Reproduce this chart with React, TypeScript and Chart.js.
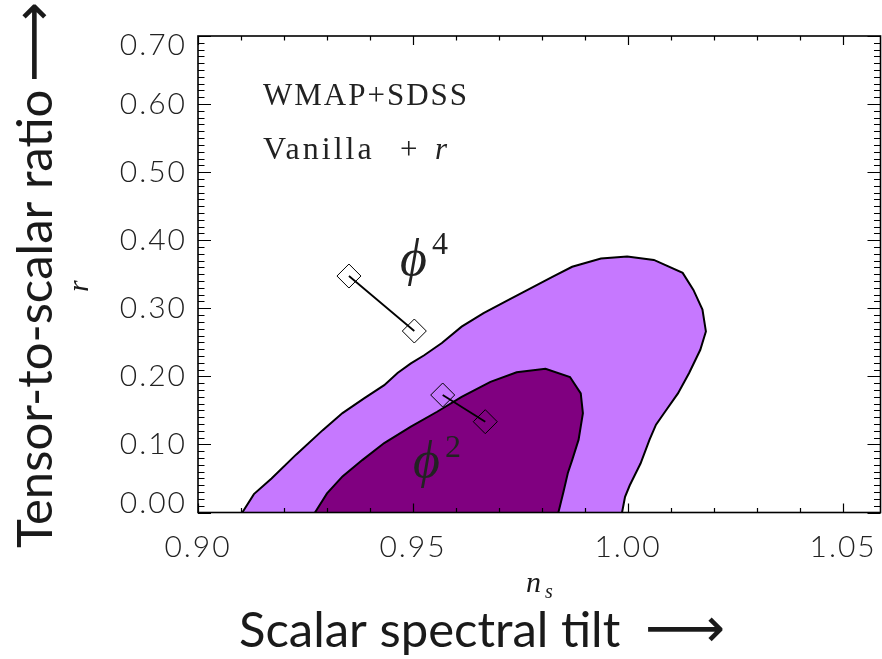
import React, { useEffect, useRef } from "react";
import { Chart, registerables } from "chart.js";

Chart.register(...registerables);

// Outer (95%) confidence region in the (n_s, r) plane; both ends sit on r = 0
const outerNs = [0.9103, 0.9130, 0.9171, 0.9228, 0.9290, 0.9336, 0.9387, 0.9433, 0.9464, 0.9495, 0.9526, 0.9567, 0.9613, 0.9664, 0.9721, 0.9772, 0.9824, 0.9870, 0.9937, 0.9998, 1.0060, 1.0127, 1.0152, 1.0173, 1.0181, 1.0168, 1.0142, 1.0116, 1.0086, 1.0065, 1.0050, 1.0029, 1.0004, 0.9993, 0.9986];
const outerR = [0.000, 0.027, 0.050, 0.085, 0.121, 0.146, 0.168, 0.187, 0.205, 0.219, 0.231, 0.249, 0.273, 0.293, 0.312, 0.329, 0.346, 0.361, 0.373, 0.376, 0.371, 0.352, 0.327, 0.298, 0.266, 0.239, 0.205, 0.175, 0.148, 0.129, 0.107, 0.072, 0.040, 0.023, 0.000];

// Inner (68%) confidence region
const innerNs = [0.9272, 0.9300, 0.9336, 0.9382, 0.9433, 0.9495, 0.9556, 0.9613, 0.9680, 0.9741, 0.9808, 0.9865, 0.9890, 0.9895, 0.9885, 0.9870, 0.9860, 0.9850, 0.9838];
const innerR = [0.000, 0.028, 0.053, 0.077, 0.102, 0.126, 0.148, 0.170, 0.192, 0.206, 0.211, 0.199, 0.175, 0.146, 0.107, 0.077, 0.058, 0.031, 0.000];

// Model predictions (two e-fold choices each)
const phi4Ns = [0.9351, 0.9503];
const phi4R = [0.3474, 0.2666];
const phi2Ns = [0.9569, 0.9668];
const phi2R = [0.1726, 0.1334];

// Axes
const X_MIN = 0.9;
const X_MAX = 1.0587;
const Y_MIN = 0.0;
const Y_MAX = 0.7;
const xTickValues = [0.9, 0.95, 1.0, 1.05];
const xTickLabels = ["0.90", "0.95", "1.00", "1.05"];
const yTickValues = [0.0, 0.1, 0.2, 0.3, 0.4, 0.5, 0.6, 0.7];
const yTickLabels = ["0.00", "0.10", "0.20", "0.30", "0.40", "0.50", "0.60", "0.70"];
const MINOR_STEP = 0.01;

const OUTER_COLOR = "#C678FF";
const INNER_COLOR = "#800080";

const W = 882;
const H = 659;

const toPoints = (xs: number[], ys: number[]) => xs.map((x, i) => ({ x, y: ys[i] }));

// Fills each contour polygon (from the points Chart.js laid out) before its outline is drawn
const regionFill = {
  id: "regionFill",
  beforeDatasetDraw(chart: any, args: any) {
    const ds: any = chart.data.datasets[args.index];
    if (!ds.regionColor) return;
    const pts = args.meta.data;
    const { ctx, chartArea: a } = chart;
    ctx.save();
    ctx.beginPath();
    ctx.rect(a.left, a.top, a.right - a.left, a.bottom - a.top);
    ctx.clip();
    ctx.beginPath();
    pts.forEach((p: any, i: number) => (i ? ctx.lineTo(p.x, p.y) : ctx.moveTo(p.x, p.y)));
    ctx.closePath();
    ctx.fillStyle = ds.regionColor;
    ctx.fill();
    ctx.restore();
  },
};

const isMajor = (v: number, list: number[]) => list.some((t) => Math.abs(t - v) < 1e-6);

// Box frame, inward ticks on all four sides, tick labels, titles and annotations
const frameAndText = {
  id: "frameAndText",
  afterDatasetsDraw(chart: any) {
    const { ctx, chartArea: a, scales } = chart;
    const xs = scales.x;
    const ys = scales.y;
    const px = (v: number) => xs.getPixelForValue(v);
    const py = (v: number) => ys.getPixelForValue(v);

    ctx.save();
    ctx.strokeStyle = "#000";

    // ticks
    ctx.lineWidth = 1.2;
    ctx.beginPath();
    const nx = Math.round((X_MAX - X_MIN) / MINOR_STEP);
    for (let k = 0; k <= nx; k++) {
      const v = Math.round((X_MIN + k * MINOR_STEP) * 1000) / 1000;
      if (v > X_MAX) break;
      const len = isMajor(v, xTickValues) ? 9 : 4.5;
      const x = Math.round(px(v)) + 0.5;
      ctx.moveTo(x, a.bottom);
      ctx.lineTo(x, a.bottom - len);
      ctx.moveTo(x, a.top);
      ctx.lineTo(x, a.top + len);
    }
    const ny = Math.round((Y_MAX - Y_MIN) / MINOR_STEP);
    for (let k = 0; k <= ny; k++) {
      const v = Math.round((Y_MIN + k * MINOR_STEP) * 1000) / 1000;
      const len = isMajor(v, yTickValues) ? 13 : 6.5;
      const y = Math.round(py(v)) + 0.5;
      ctx.moveTo(a.left, y);
      ctx.lineTo(a.left + len, y);
      ctx.moveTo(a.right, y);
      ctx.lineTo(a.right - len, y);
    }
    ctx.stroke();

    // frame
    ctx.lineWidth = 1.6;
    ctx.strokeRect(a.left, a.top, a.right - a.left, a.bottom - a.top);

    // tick labels
    ctx.fillStyle = "#222";
    ctx.font = "300 30px Lato, 'DejaVu Sans', sans-serif";
    (ctx as any).letterSpacing = "2px";
    ctx.textAlign = "center";
    ctx.textBaseline = "alphabetic";
    xTickValues.forEach((v, i) => {
      ctx.fillText(xTickLabels[i], px(v), a.bottom + 44);
    });
    ctx.textAlign = "right";
    ctx.textBaseline = "middle";
    yTickValues.forEach((v, i) => {
      const y = Math.min(Math.max(py(v), a.top + 9.5), a.bottom - 9.5);
      ctx.fillText(yTickLabels[i], a.left - 11, y);
    });
    (ctx as any).letterSpacing = "0px";

    // axis titles with long arrows
    ctx.fillStyle = "#1a1a1a";
    ctx.textBaseline = "alphabetic";
    ctx.textAlign = "left";
    const titleFont = "49px Lato, 'DejaVu Sans', sans-serif";
    const arrowFont = "56px 'DejaVu Sans', sans-serif";
    ctx.font = titleFont;
    ctx.fillText("Scalar spectral tilt", 239, 647);
    ctx.font = arrowFont;
    ctx.fillText("\u27F6", 645, 647);
    ctx.save();
    ctx.translate(52, 548);
    ctx.rotate(-Math.PI / 2);
    ctx.font = titleFont;
    ctx.fillText("Tensor-to-scalar ratio", 0, 0);
    ctx.font = arrowFont;
    ctx.fillText("\u27F6", 466, 0);
    ctx.restore();

    // variable symbols
    ctx.font = "italic 30px 'Liberation Serif', serif";
    ctx.fillText("n", 526, 592);
    ctx.font = "italic 20px 'Liberation Serif', serif";
    ctx.fillText("s", 545, 598);
    ctx.save();
    ctx.translate(88, 292);
    ctx.rotate(-Math.PI / 2);
    ctx.font = "italic 30px 'Liberation Serif', serif";
    ctx.fillText("r", 0, 0);
    ctx.restore();

    // annotations inside the plot
    ctx.fillStyle = "#222";
    ctx.font = "31px 'Liberation Serif', serif";
    (ctx as any).letterSpacing = "2px";
    ctx.fillText("WMAP+SDSS", px(0.91512), py(0.5987));
    (ctx as any).letterSpacing = "3px";
    ctx.font = "32px 'Liberation Serif', serif";
    ctx.fillText("Vanilla", px(0.91512), py(0.5189));
    (ctx as any).letterSpacing = "0px";
    ctx.font = "31px 'Liberation Serif', serif";
    ctx.fillText("+", px(0.94698), py(0.5189));
    ctx.font = "italic 31px 'Liberation Serif', serif";
    ctx.fillText("r", px(0.95512), py(0.5189));

    ctx.font = "italic 52px 'Liberation Serif', 'DejaVu Serif', serif";
    ctx.fillText("\u03D5", px(0.94698), py(0.3489));
    ctx.fillText("\u03D5", px(0.95), py(0.0522));
    ctx.font = "32px 'Liberation Serif', serif";
    ctx.fillText("4", px(0.95442), py(0.3798));
    ctx.fillText("2", px(0.95744), py(0.0815));

    ctx.restore();
  },
};

export default function App() {
  const ref = useRef<HTMLCanvasElement | null>(null);

  useEffect(() => {
    if (!ref.current) return;
    const marker = {
      showLine: true,
      borderColor: "#000",
      borderWidth: 1.8,
      pointStyle: "rectRot",
      pointRadius: 12,
      pointBorderWidth: 1,
      pointBorderColor: "#000",
      pointBackgroundColor: "rgba(0,0,0,0)",
      order: 1,
    };
    const chart = new Chart(ref.current, {
      type: "scatter",
      data: {
        datasets: [
          {
            label: "95%",
            data: toPoints(outerNs, outerR),
            showLine: true,
            borderColor: "#000",
            borderWidth: 2,
            pointRadius: 0,
            regionColor: OUTER_COLOR,
            order: 3,
          } as any,
          {
            label: "68%",
            data: toPoints(innerNs, innerR),
            showLine: true,
            borderColor: "#000",
            borderWidth: 2,
            pointRadius: 0,
            regionColor: INNER_COLOR,
            order: 2,
          } as any,
          { label: "phi4", data: toPoints(phi4Ns, phi4R), ...marker } as any,
          { label: "phi2", data: toPoints(phi2Ns, phi2R), ...marker } as any,
        ],
      },
      options: {
        responsive: false,
        animation: false,
        devicePixelRatio: 1,
        events: [],
        layout: { autoPadding: false, padding: { left: 198, top: 36, right: 1.5, bottom: 146.5 } },
        scales: {
          x: { type: "linear", min: X_MIN, max: X_MAX, display: false },
          y: { type: "linear", min: Y_MIN, max: Y_MAX, display: false },
        },
        plugins: { legend: { display: false }, tooltip: { enabled: false } },
      },
      plugins: [regionFill, frameAndText],
    });
    return () => chart.destroy();
  }, []);

  return (
    <div style={{ position: "absolute", left: 0, top: 0, width: W, height: H, background: "#fff" }}>
      <canvas ref={ref} width={W} height={H} style={{ display: "block" }} />
    </div>
  );
}
